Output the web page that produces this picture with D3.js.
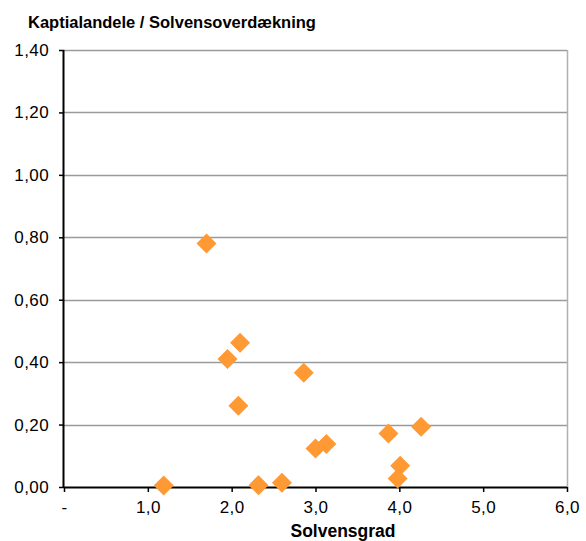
<!DOCTYPE html>
<html>
<head>
<meta charset="utf-8">
<script src="https://cdn.jsdelivr.net/npm/d3@7.9.0/dist/d3.min.js"></script>
<style>
  body { margin: 0; background: #fff; }
  svg { display: block; font-family: "Liberation Sans", Arial, sans-serif; }
</style>
</head>
<body>
<svg id="chart" width="586" height="541"></svg>
<script>
// solvensgrad (x) and kapitalandel / solvensoverdaekning (y)
const solvensgrad = [1.70, 2.10, 1.95, 2.86, 2.08, 1.19, 2.32, 2.60, 3.00, 3.13, 3.87, 4.26, 4.01, 3.98];
const kapitalandel = [0.780, 0.462, 0.410, 0.366, 0.260, 0.005, 0.006, 0.014, 0.123, 0.138, 0.171, 0.193, 0.068, 0.027];
const xTicks = [0, 1, 2, 3, 4, 5, 6];
const yTicks = [0, 0.2, 0.4, 0.6, 0.8, 1.0, 1.2, 1.4];

const svg = d3.select('#chart');
const margin = { top: 50, right: 19, bottom: 54, left: 64 };
const width = 586 - margin.left - margin.right;
const height = 541 - margin.top - margin.bottom;

const x = d3.scaleLinear().domain([0, 6]).range([0, width]);
const y = d3.scaleLinear().domain([0, 1.4]).range([height, 0]);

const g = svg.append('g').attr('transform', `translate(${margin.left},${margin.top})`);

// gridlines
g.selectAll('line.grid')
  .data(yTicks.filter(d => d > 0))
  .join('line')
  .attr('class', 'grid')
  .attr('x1', 0).attr('x2', width)
  .attr('y1', d => Math.round(y(d)) + 0.5).attr('y2', d => Math.round(y(d)) + 0.5)
  .attr('stroke', '#9a9a9a').attr('stroke-width', 1.5);

// right border
g.append('line')
  .attr('x1', width + 0.5).attr('x2', width + 0.5)
  .attr('y1', 0).attr('y2', height)
  .attr('stroke', '#b0b0b0').attr('stroke-width', 1.5);

const fmtX = d => d === 0 ? '-' : d3.format('.1f')(d).replace('.', ',');
const fmtY = d => d3.format('.2f')(d).replace('.', ',');

const xAxis = g.append('g')
  .attr('transform', `translate(0,${height})`)
  .call(d3.axisBottom(x).tickValues(xTicks).tickSize(5).tickPadding(9).tickFormat(fmtX));
const yAxis = g.append('g')
  .call(d3.axisLeft(y).tickValues(yTicks).tickSize(5).tickPadding(10).tickFormat(fmtY));

[xAxis, yAxis].forEach(a => {
  a.select('.domain').attr('stroke', '#000').attr('stroke-width', 2);
  a.selectAll('.tick line').attr('stroke', '#000').attr('stroke-width', 1.5);
  a.selectAll('text').attr('font-size', 17).attr('fill', '#000')
    .attr('letter-spacing', 0.4)
    .attr('font-family', '"Liberation Sans", Arial, sans-serif');
});
xAxis.select('.domain').attr('d', `M0,0.5H${width}`);
yAxis.select('.domain').attr('d', `M-0.5,0V${height}`);

// diamonds
const diamond = d3.symbol().type(d3.symbolSquare).size(200);
g.selectAll('path.pt')
  .data(solvensgrad.map((v, i) => [v, kapitalandel[i]]))
  .join('path')
  .attr('class', 'pt')
  .attr('d', diamond)
  .attr('transform', d => `translate(${x(d[0])},${y(d[1])}) rotate(45)`)
  .attr('fill', '#ff9933');

svg.append('text')
  .attr('x', 28).attr('y', 28)
  .attr('font-size', 16.5).attr('font-weight', 'bold')
  .text('Kaptialandele / Solvensoverdækning');

svg.append('text')
  .attr('x', 343).attr('y', 537)
  .attr('text-anchor', 'middle')
  .attr('font-size', 17.5).attr('font-weight', 'bold')
  .text('Solvensgrad');
</script>
</body>
</html>
